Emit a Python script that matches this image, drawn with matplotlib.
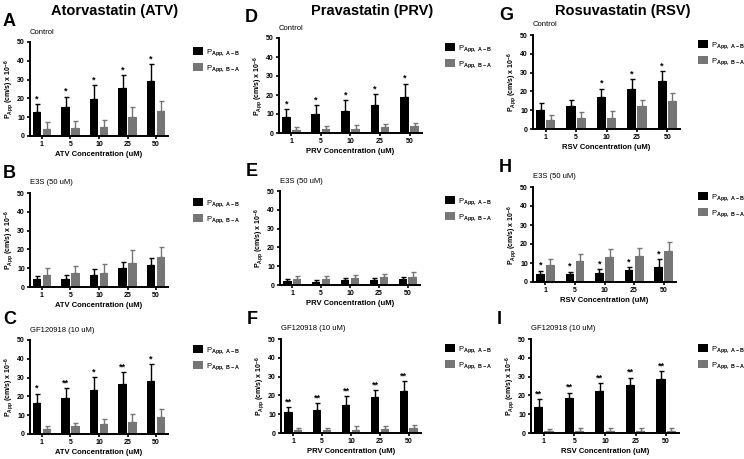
import matplotlib.pyplot as plt
import numpy as np

# concentrations (uM)
conc_labels = ["1", "5", "10", "25", "50"]
drugs = ["ATV", "PRV", "RSV"]
drug_titles = ["Atorvastatin (ATV)", "Pravastatin (PRV)", "Rosuvastatin (RSV)"]
conditions = ["Control", "E3S (50 uM)", "GF120918 (10 uM)"]
panel_letters = [["A", "B", "C"], ["D", "E", "F"], ["G", "H", "I"]]

# P_app A->B (black) and B->A (gray), mean and upper SD, x 10^-6 cm/s
atv_ctrl_ab = [13, 15.5, 19.5, 25.5, 29]
atv_ctrl_ab_err = [4, 5.5, 7.5, 7, 9.5]
atv_ctrl_ba = [3.5, 4.5, 5, 10, 13.5]
atv_ctrl_ba_err = [4, 3.5, 3.5, 5.5, 5]
atv_ctrl_star = ["*", "*", "*", "*", "*"]

atv_e3s_ab = [4, 4.5, 6.5, 10, 11.5]
atv_e3s_ab_err = [2, 2, 3, 3.5, 4]
atv_e3s_ba = [6.5, 7.5, 7.5, 13, 16]
atv_e3s_ba_err = [3.5, 3.5, 4.5, 6.5, 5.5]
atv_e3s_star = ["", "", "", "", ""]

atv_gf_ab = [16.5, 19, 23.5, 26.5, 28]
atv_gf_ab_err = [5, 5.5, 7, 6.5, 9]
atv_gf_ba = [2.5, 4, 5.5, 6.5, 9]
atv_gf_ba_err = [1.5, 2, 2.5, 4, 4.5]
atv_gf_star = ["*", "**", "*", "**", "*"]

prv_ctrl_ab = [8.5, 10, 11.5, 15, 19]
prv_ctrl_ab_err = [4, 4.5, 6, 5.5, 7]
prv_ctrl_ba = [1.5, 2, 2, 3, 3.5]
prv_ctrl_ba_err = [1.5, 1.5, 2, 1.5, 2]
prv_ctrl_star = ["*", "*", "*", "*", "*"]

prv_e3s_ab = [2, 1.5, 2.5, 2.5, 3]
prv_e3s_ab_err = [1, 1, 1, 1, 1.5]
prv_e3s_ba = [3, 3, 3.5, 4, 4.5]
prv_e3s_ba_err = [2, 2, 2, 2, 2.5]
prv_e3s_star = ["", "", "", "", ""]

prv_gf_ab = [11, 12, 15, 19, 22.5]
prv_gf_ab_err = [3, 4, 4.5, 4, 5]
prv_gf_ba = [1.5, 1.5, 1.5, 2, 2.5]
prv_gf_ba_err = [1, 1, 2, 1.5, 2]
prv_gf_star = ["**", "**", "**", "**", "**"]

rsv_ctrl_ab = [10, 12.5, 17, 21.5, 25.5]
rsv_ctrl_ab_err = [4, 3, 4.5, 5, 5.5]
rsv_ctrl_ba = [5, 6, 6, 12, 15]
rsv_ctrl_ba_err = [2.5, 3, 3.5, 3.5, 4]
rsv_ctrl_star = ["", "", "*", "*", "*"]

rsv_e3s_ab = [4, 4, 5, 6.5, 8]
rsv_e3s_ab_err = [2, 1.5, 2, 1.5, 4]
rsv_e3s_ba = [9, 11, 13, 13.5, 16.5]
rsv_e3s_ba_err = [3, 3.5, 4.5, 4.5, 4.5]
rsv_e3s_star = ["*", "*", "*", "*", "*"]

rsv_gf_ab = [14, 18.5, 22.5, 25.5, 28.5]
rsv_gf_ab_err = [4, 3, 4, 4, 4.5]
rsv_gf_ba = [1, 1, 1, 1, 1]
rsv_gf_ba_err = [1, 1.5, 1.5, 1.5, 1.5]
rsv_gf_star = ["**", "**", "**", "**", "**"]

panels = [
    [(atv_ctrl_ab, atv_ctrl_ab_err, atv_ctrl_ba, atv_ctrl_ba_err, atv_ctrl_star),
     (atv_e3s_ab, atv_e3s_ab_err, atv_e3s_ba, atv_e3s_ba_err, atv_e3s_star),
     (atv_gf_ab, atv_gf_ab_err, atv_gf_ba, atv_gf_ba_err, atv_gf_star)],
    [(prv_ctrl_ab, prv_ctrl_ab_err, prv_ctrl_ba, prv_ctrl_ba_err, prv_ctrl_star),
     (prv_e3s_ab, prv_e3s_ab_err, prv_e3s_ba, prv_e3s_ba_err, prv_e3s_star),
     (prv_gf_ab, prv_gf_ab_err, prv_gf_ba, prv_gf_ba_err, prv_gf_star)],
    [(rsv_ctrl_ab, rsv_ctrl_ab_err, rsv_ctrl_ba, rsv_ctrl_ba_err, rsv_ctrl_star),
     (rsv_e3s_ab, rsv_e3s_ab_err, rsv_e3s_ba, rsv_e3s_ba_err, rsv_e3s_star),
     (rsv_gf_ab, rsv_gf_ab_err, rsv_gf_ba, rsv_gf_ba_err, rsv_gf_star)],
]

# axes boxes in pixels: left, top, bottom, width
boxes = [
    [(30, 42, 136, 138), (30, 193, 287, 138), (30, 340, 434, 138)],
    [(279, 38, 133, 143), (280, 191, 285, 140), (281, 339, 433, 140)],
    [(533, 35, 129, 147), (533, 187, 282, 143), (531, 339, 433, 148)],
]

W, H = 744, 459
BLACK = "#000000"
GRAY = "#767676"

plt.rcParams["font.family"] = ["Liberation Sans", "DejaVu Sans"]
plt.rcParams["mathtext.fontset"] = "custom"
plt.rcParams["mathtext.rm"] = "Liberation Sans:bold"
plt.rcParams["mathtext.it"] = "Liberation Sans:bold"
plt.rcParams["mathtext.bf"] = "Liberation Sans:bold"
fig = plt.figure(figsize=(W / 100, H / 100), dpi=100)

x = np.arange(len(conc_labels))
bw = 0.3
off = 0.17

for c in range(3):
    for r in range(3):
        left, top, bottom, width = boxes[c][r]
        ax = fig.add_axes([left / W, 1 - bottom / H, width / W, (bottom - top) / H])
        ab, ab_err, ba, ba_err, stars = panels[c][r]
        ax.bar(x - off, ab, bw, color=BLACK, label="P$_{\\mathrm{App,\\ A-B}}$",
               yerr=[np.zeros(5), ab_err], capsize=1.8,
               error_kw=dict(elinewidth=1, capthick=1, ecolor=BLACK))
        ax.bar(x + off, ba, bw, color=GRAY, label="P$_{\\mathrm{App,\\ B-A}}$",
               yerr=[np.zeros(5), ba_err], capsize=1.8,
               error_kw=dict(elinewidth=1, capthick=1, ecolor=GRAY))
        for i, s in enumerate(stars):
            if s:
                ax.text(x[i] - off, ab[i] + ab_err[i] + 0.3, s, ha="center", va="bottom",
                        fontsize=6.5, fontweight="bold")
        ax.set_xlim(-0.42, 4.42)
        ax.set_ylim(0, 50)
        ax.set_yticks([0, 10, 20, 30, 40, 50])
        ax.set_xticks(x)
        ax.set_xticklabels(conc_labels)
        for sp in ["top", "right"]:
            ax.spines[sp].set_visible(False)
        for sp in ["left", "bottom"]:
            ax.spines[sp].set_linewidth(1.4)
        ax.tick_params(length=2.5, width=1.2, labelsize=5, pad=1.2)
        for lab in ax.get_xticklabels() + ax.get_yticklabels():
            lab.set_fontweight("bold")
        ax.set_xlabel(f"{drugs[c]} Concentration (uM)", fontsize=5.5, fontweight="bold", labelpad=2)
        ax.set_ylabel("P$_{\\mathrm{App}}$ (cm/s) x 10$^{\\mathrm{-6}}$", fontsize=5,
                      fontweight="bold", labelpad=1)
        fig.text(left / W, 1 - (top - 10) / H, conditions[r], fontsize=5.5, va="center", ha="left")
        fig.text((left - 27 if c == 0 else left - 34) / W, 1 - (top - 20) / H,
                 panel_letters[c][r], fontsize=13, fontweight="bold", va="center", ha="left")
        leg_x = [189, 441, 694][c]
        ax.legend(loc="upper left", bbox_to_anchor=(leg_x / W, 1 - (top + 1) / H),
                  bbox_transform=fig.transFigure, frameon=False, fontsize=5.5,
                  handlelength=1.3, handleheight=1.2, labelspacing=0.7,
                  handletextpad=0.4, borderpad=0)

title_x = [115, 372, 623]
for c in range(3):
    fig.text(title_x[c] / W, 1 - 11 / H, drug_titles[c], fontsize=10.5, fontweight="bold",
             ha="center", va="center")

fig.savefig("out.png", dpi=100)
